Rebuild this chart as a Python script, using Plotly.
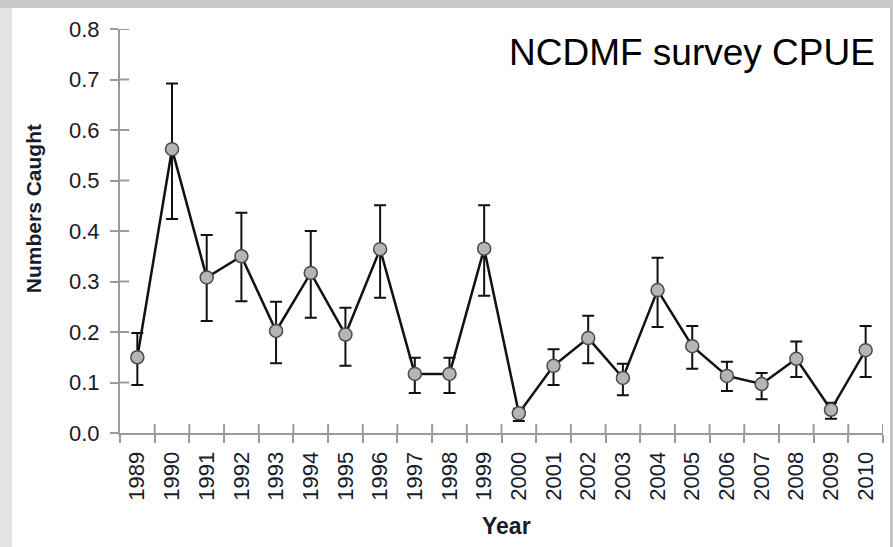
import numpy as np
import plotly.graph_objects as go

years = [str(y) for y in range(1989, 2011)]
cpue = [0.150, 0.562, 0.308, 0.350, 0.202, 0.317, 0.195, 0.364, 0.117, 0.117, 0.365,
        0.039, 0.133, 0.188, 0.109, 0.283, 0.172, 0.113, 0.097, 0.147, 0.046, 0.164]
upper = [0.198, 0.692, 0.392, 0.436, 0.260, 0.400, 0.248, 0.451, 0.149, 0.149, 0.451,
         0.048, 0.166, 0.232, 0.137, 0.347, 0.212, 0.141, 0.119, 0.181, 0.060, 0.212]
lower = [0.095, 0.424, 0.222, 0.261, 0.138, 0.228, 0.133, 0.268, 0.079, 0.079, 0.272,
         0.024, 0.095, 0.138, 0.075, 0.210, 0.127, 0.083, 0.067, 0.111, 0.028, 0.111]
y_ticks = [0.0, 0.1, 0.2, 0.3, 0.4, 0.5, 0.6, 0.7, 0.8]

err_plus = [u - v for u, v in zip(upper, cpue)]
err_minus = [v - lo for v, lo in zip(cpue, lower)]

FONT = "Liberation Sans"
AXIS_GREY = "#9a9a9a"
TICK_FONT = dict(family=FONT, size=22, color="#1a1a2a")

fig = go.Figure()
fig.add_trace(
    go.Scatter(
        x=years,
        y=cpue,
        mode="lines+markers",
        line=dict(color="#111111", width=2.5),
        marker=dict(size=13, color="#b5b5b5", line=dict(color="#4a4a4a", width=1.5)),
        error_y=dict(type="data", symmetric=False, array=err_plus, arrayminus=err_minus,
                     color="#111111", thickness=2, width=6),
        showlegend=False,
        hoverinfo="x+y",
    )
)

# inner half of the crossing tick marks (plotly only draws ticks on one side)
bounds = np.arange(len(years) + 1) - 0.5
inner = []
for b in bounds[1:]:
    inner.append(dict(type="line", xref="x", yref="paper", x0=b, x1=b, y0=0, y1=0.022,
                      line=dict(color=AXIS_GREY, width=2), layer="below"))
for t in y_ticks[1:]:
    inner.append(dict(type="line", xref="paper", yref="y", x0=0, x1=0.012, y0=t, y1=t,
                      line=dict(color=AXIS_GREY, width=2), layer="below"))

frame = [
    dict(type="rect", xref="paper", yref="paper", x0=-0.16, x1=1.02, y0=1.052, y1=1.08,
         fillcolor="#c9c9c9", line=dict(width=0), layer="below"),
    dict(type="rect", xref="paper", yref="paper", x0=-0.16, x1=-0.1415, y0=-0.3, y1=1.052,
         fillcolor="#e4e4e4", line=dict(width=0), layer="below"),
    dict(type="rect", xref="paper", yref="paper", x0=1.0092, x1=1.02, y0=-0.3, y1=1.052,
         fillcolor="#c4c4c4", line=dict(width=0), layer="below"),
]

fig.update_layout(
    width=893,
    height=547,
    autosize=False,
    margin=dict(l=120, r=10, t=29, b=114),
    paper_bgcolor="white",
    plot_bgcolor="white",
    xaxis=dict(
        type="category",
        categoryorder="array",
        categoryarray=years,
        range=[-0.5, len(years) - 0.5],
        autorange=False,
        tickson="boundaries",
        ticks="outside",
        ticklen=8,
        tickwidth=2,
        tickcolor=AXIS_GREY,
        showline=True,
        linecolor=AXIS_GREY,
        linewidth=2,
        showgrid=False,
        zeroline=False,
        tickangle=-90,
        tickfont=TICK_FONT,
        ticklabelstandoff=8,
        automargin=False,
    ),
    yaxis=dict(
        range=[0, 0.8],
        autorange=False,
        tickvals=y_ticks,
        tickformat=".1f",
        ticks="outside",
        ticklen=8,
        tickwidth=2,
        tickcolor=AXIS_GREY,
        showline=True,
        linecolor=AXIS_GREY,
        linewidth=2,
        showgrid=False,
        zeroline=False,
        tickfont=TICK_FONT,
        ticklabelstandoff=6,
        automargin=False,
    ),
    shapes=frame + inner,
    annotations=[
        dict(text="NCDMF survey CPUE", xref="paper", yref="paper", x=0.992, y=0.943,
             xanchor="right", yanchor="middle", showarrow=False,
             font=dict(family=FONT, size=37, color="black")),
        dict(text="<b>Numbers Caught</b>", xref="paper", yref="paper", x=-0.114, y=0.554,
             xanchor="center", yanchor="middle", textangle=-90, showarrow=False,
             font=dict(family=FONT, size=21, color="#1a1a2a")),
        dict(text="<b>Year</b>", xref="paper", yref="paper", x=0.506, y=-0.230,
             xanchor="center", yanchor="middle", showarrow=False,
             font=dict(family=FONT, size=23, color="#1a1a2a")),
    ],
)

fig.write_html("out.html", config={"displayModeBar": False},
               post_script="document.body.style.margin = '0px';")
